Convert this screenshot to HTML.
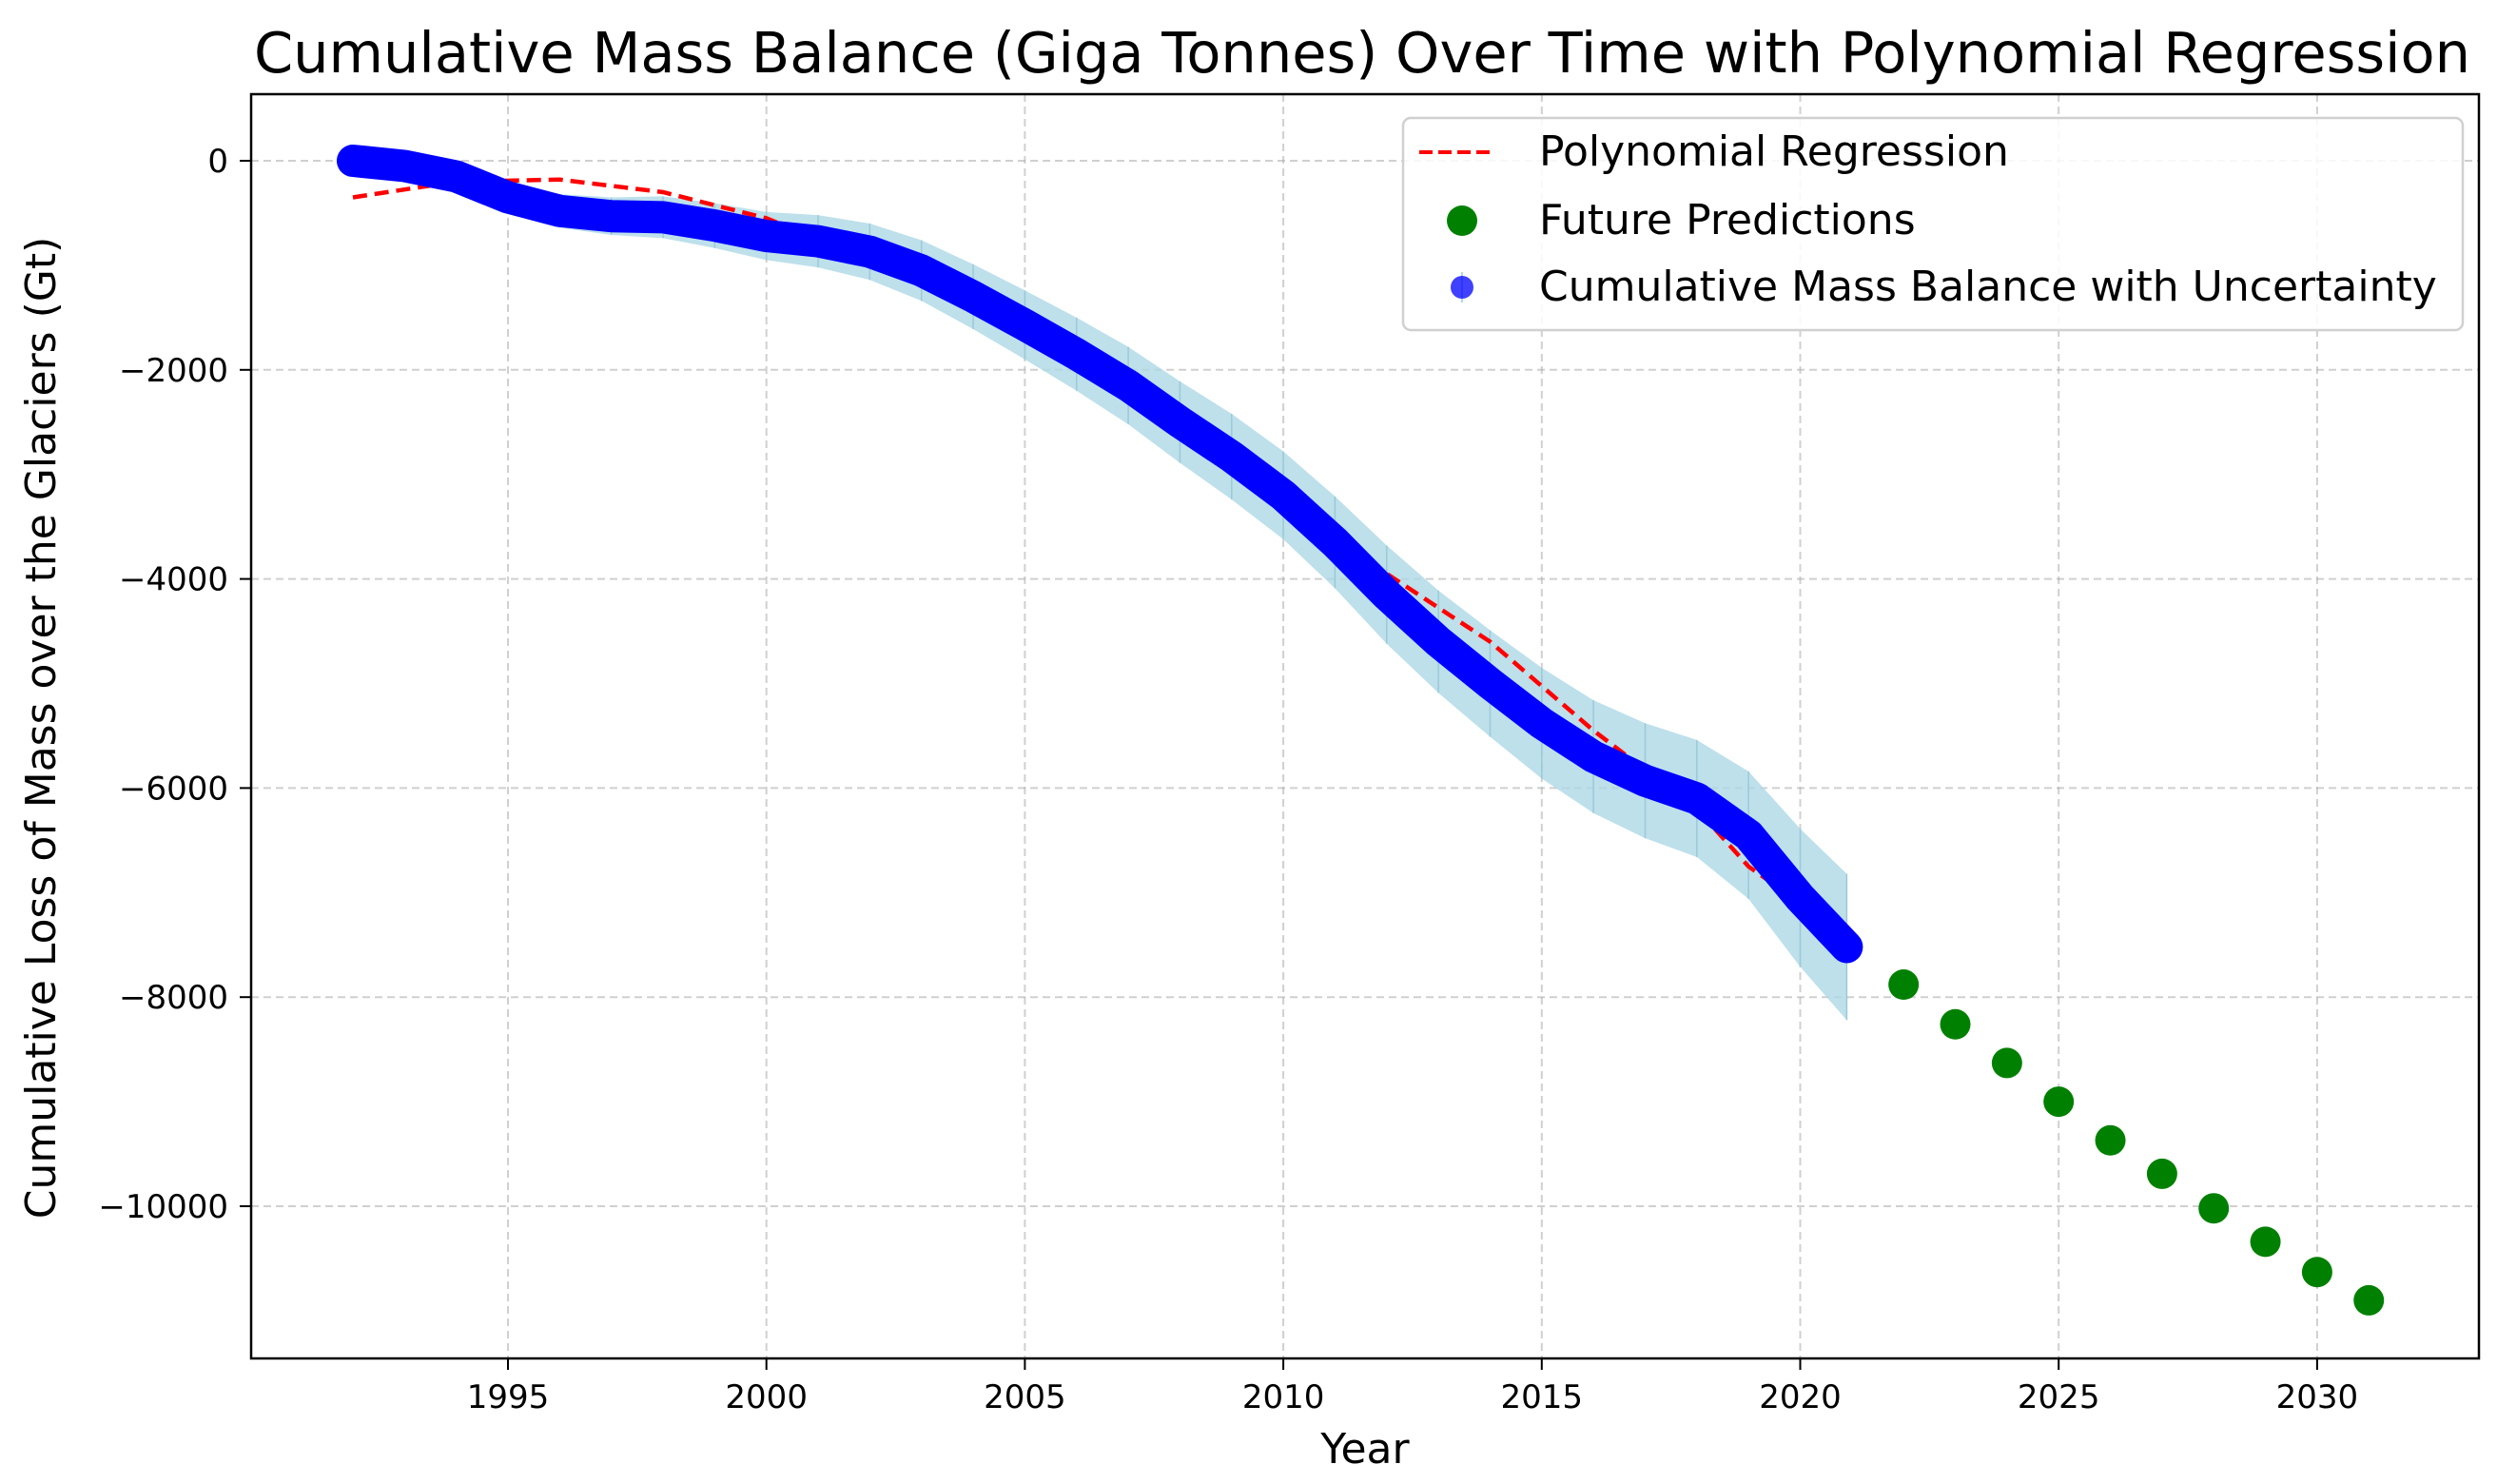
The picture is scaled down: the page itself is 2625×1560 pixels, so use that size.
<!DOCTYPE html>
<html><head><meta charset="utf-8"><style>
html,body{margin:0;padding:0;background:#fff;}
svg{display:block;font-family:"DejaVu Sans","Liberation Sans",sans-serif;}
</style></head><body>
<svg id="chart" width="2625" height="1560" viewBox="0 0 2625 1560" xmlns="http://www.w3.org/2000/svg">
<rect width="2625" height="1560" fill="#fff"/>
<text x="1432" y="76" font-size="59" text-anchor="middle" fill="#000">Cumulative Mass Balance (Giga Tonnes) Over Time with Polynomial Regression</text>
<g id="grid"></g>
<g id="band"></g>
<g id="series"></g>
<rect x="264" y="99" width="2342" height="1329" fill="none" stroke="#000" stroke-width="2.5"/>
<g id="axes"></g>
<text x="1435" y="1538" font-size="44" text-anchor="middle">Year</text>
<text transform="translate(58,765) rotate(-90)" font-size="44" text-anchor="middle">Cumulative Loss of Mass over the Glaciers (Gt)</text>
<g>
<rect x="1475" y="124" width="1114" height="223" rx="8" fill="#fff" fill-opacity="0.85" stroke="#d0d0d0" stroke-width="2.5"/>
<line x1="1492" y1="160" x2="1572" y2="160" stroke="#ff0000" stroke-width="4" stroke-dasharray="14,6"/>
<text x="1618" y="174" font-size="44">Polynomial Regression</text>
<circle cx="1537" cy="232" r="16" fill="#008000"/>
<text x="1618" y="246" font-size="44">Future Predictions</text>
<line x1="1537" y1="286" x2="1537" y2="318" stroke="#add8e6" stroke-width="2"/>
<circle cx="1537" cy="302" r="12" fill="#0000ff" fill-opacity="0.75"/>
<text x="1618" y="316" font-size="44">Cumulative Mass Balance with Uncertainty</text>
</g>
</svg>
<script>
const years = [1992,1993,1994,1995,1996,1997,1998,1999,2000,2001,2002,2003,2004,2005,2006,2007,2008,2009,2010,2011,2012,2013,2014,2015,2016,2017,2018,2019,2020,2020.9];
const massBalance = [0,-50,-150,-350,-480,-530,-540,-620,-720,-770,-870,-1050,-1300,-1570,-1850,-2150,-2500,-2830,-3200,-3650,-4150,-4600,-5000,-5380,-5700,-5930,-6100,-6450,-7050,-7520];
const uncertainty = [30,60,100,130,160,180,200,215,230,250,270,290,310,330,350,370,390,410,420,440,470,490,510,530,540,550,560,610,660,700];
const regYears = [1992,1994,1996,1998,2000,2002,2004,2006,2008,2010,2012,2014,2016,2018,2019,2020,2021];
const regValues = [-350,-200,-180,-300,-550,-950,-1400,-1950,-2550,-3200,-3950,-4600,-5450,-6200,-6750,-7100,-7500];
const predYears = [2022,2023,2024,2025,2026,2027,2028,2029,2030,2031];
const predValues = [-7880,-8260,-8630,-9000,-9370,-9690,-10020,-10340,-10630,-10900];
const xTicks = [1995,2000,2005,2010,2015,2020,2025,2030];
const yTicks = [0,-2000,-4000,-6000,-8000,-10000];
const yTickLabels = ["0","\u22122000","\u22124000","\u22126000","\u22128000","\u221210000"];

const NS="http://www.w3.org/2000/svg";
const X = v => 534 + (v-1995)*54.34;
const Y = v => 169 - v*0.1099;
function mk(tag, parent, attrs){const e=document.createElementNS(NS,tag);for(const k in attrs)e.setAttribute(k,attrs[k]);parent.appendChild(e);return e;}
const gridG=document.getElementById('grid'), axesG=document.getElementById('axes'), bandG=document.getElementById('band'), seriesG=document.getElementById('series');

xTicks.forEach(t=>{
  const g=mk('line',gridG,{x1:X(t),x2:X(t),y1:99,y2:1428,stroke:'#b0b0b0','stroke-opacity':0.6,'stroke-width':2,'stroke-dasharray':'8,5'});
  
  
  const tk=mk('line',axesG,{x1:X(t),x2:X(t),y1:1428,y2:1440,stroke:'#000','stroke-width':2});
  
  
  const tl=mk('text',axesG,{x:X(t),y:1480,'font-size':34,'text-anchor':'middle'});
  tl.textContent=String(t);
  
  
});
yTicks.forEach((t,i)=>{
  const g=mk('line',gridG,{x1:264,x2:2606,y1:Y(t),y2:Y(t),stroke:'#b0b0b0','stroke-opacity':0.6,'stroke-width':2,'stroke-dasharray':'8,5'});
  
  
  const tk=mk('line',axesG,{x1:252,x2:264,y1:Y(t),y2:Y(t),stroke:'#000','stroke-width':2});
  
  
  const tl=mk('text',axesG,{x:240,y:Y(t)+12,'font-size':34,'text-anchor':'end'});
  tl.textContent=yTickLabels[i];
  
  
});

const bandTop=years.map((y,i)=>X(y)+','+Y(massBalance[i]+uncertainty[i]));
const bandBot=years.map((y,i)=>X(y)+','+Y(massBalance[i]-uncertainty[i])).reverse();
const bp=mk('polygon',bandG,{points:bandTop.concat(bandBot).join(' '),fill:'#add8e6','fill-opacity':0.8});


years.forEach((y,i)=>{
  const e=mk('line',bandG,{x1:X(y),x2:X(y),y1:Y(massBalance[i]+uncertainty[i]),y2:Y(massBalance[i]-uncertainty[i]),stroke:'#9cc9d8','stroke-width':1.5});
  
  
});

const rp=mk('polyline',seriesG,{points:regYears.map((y,i)=>X(y)+','+Y(regValues[i])).join(' '),fill:'none',stroke:'#ff0000','stroke-width':4.5,'stroke-dasharray':'15,8'});



const op=mk('polyline',seriesG,{points:years.map((y,i)=>X(y)+','+Y(massBalance[i])).join(' '),fill:'none',stroke:'#0000ff','stroke-width':34,'stroke-linecap':'round','stroke-linejoin':'round'});


years.forEach((y,i)=>{
  const c=mk('circle',seriesG,{cx:X(y),cy:Y(massBalance[i]),r:16,fill:'#0000ff'});
  
  
});

predYears.forEach((y,i)=>{
  const c=mk('circle',seriesG,{cx:X(y),cy:Y(predValues[i]),r:16,fill:'#008000'});
  
  
});
</script>
</body></html>
